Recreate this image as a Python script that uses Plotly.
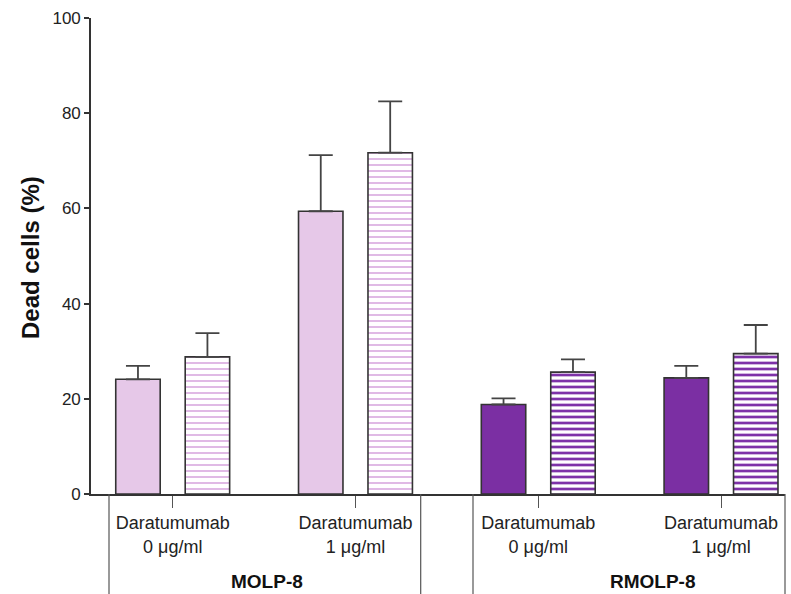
import plotly.graph_objects as go

# Dead-cell percentages (mean and upper SD) for each cell line / dose
dose_labels = ["Daratumumab<br>0 \u03bcg/ml", "Daratumumab<br>1 \u03bcg/ml",
               "Daratumumab<br>0 \u03bcg/ml", "Daratumumab<br>1 \u03bcg/ml"]
positions = [0, 1, 2, 3]
group_names = ["MOLP-8", "RMOLP-8"]
group_positions = [[0, 1], [2, 3]]

solid_mean = {"MOLP-8": [24.1, 59.4], "RMOLP-8": [18.8, 24.4]}
solid_err = {"MOLP-8": [2.8, 11.8], "RMOLP-8": [1.3, 2.5]}
hatched_mean = {"MOLP-8": [28.8, 71.7], "RMOLP-8": [25.6, 29.5]}
hatched_err = {"MOLP-8": [5.0, 10.8], "RMOLP-8": [2.7, 6.0]}

fill_color = {"MOLP-8": "#E6C8E8", "RMOLP-8": "#7B2FA3"}
hatch_color = {"MOLP-8": "#DDB2E2", "RMOLP-8": "#7E32A8"}
hatch_solidity = {"MOLP-8": 0.3, "RMOLP-8": 0.45}
EDGE = "#333333"

font_family = "Liberation Sans, Arial, sans-serif"


def err(values):
    return dict(type="data", array=values, arrayminus=[0] * len(values), symmetric=False,
                color="#444444", thickness=1.8, width=12)


fig = go.Figure()
for g, xs in zip(group_names, group_positions):
    fig.add_trace(go.Bar(
        x=xs, y=solid_mean[g], offsetgroup="solid",
        marker=dict(color=fill_color[g], line=dict(color=EDGE, width=1.6)),
        error_y=err(solid_err[g]), showlegend=False,
    ))
    fig.add_trace(go.Bar(
        x=xs, y=hatched_mean[g], offsetgroup="hatched",
        marker=dict(color="white", line=dict(color=EDGE, width=1.6),
                    pattern=dict(shape="-", fgcolor=hatch_color[g], bgcolor="white",
                                 fgopacity=1, size=6, solidity=hatch_solidity[g])),
        error_y=err(hatched_err[g]), showlegend=False,
    ))

W, H = 791, 594
L, R, T, B = 91, 6, 18, 100
plot_w = W - L - R
plot_h = H - T - B


def px_x(p):
    return (p - L) / plot_w


def px_y(p):
    return (H - B - p) / plot_h


fig.update_layout(
    width=W, height=H,
    margin=dict(l=L, r=R, t=T, b=B),
    paper_bgcolor="white", plot_bgcolor="white",
    barmode="group", bargap=0.24, bargroupgap=0.36,
    font=dict(family=font_family, color="#222222", size=17),
    xaxis=dict(range=[-0.447, 3.35], tickmode="array", tickvals=positions,
               ticktext=dose_labels, ticks="outside", ticklen=12, tickwidth=1.2,
               tickcolor="#555555", showline=True, linecolor=EDGE, linewidth=1.6,
               showgrid=False, zeroline=False, tickfont=dict(size=18)),
    yaxis=dict(range=[0, 100], dtick=20, ticks="outside", ticklen=5, tickwidth=1.6,
               tickcolor=EDGE, showline=True, linecolor=EDGE, linewidth=1.6,
               showgrid=False, zeroline=False, tickfont=dict(size=17)),
)

# Y-axis title
fig.add_annotation(text="<b>Dead cells (%)</b>", textangle=-90, xref="paper", yref="paper",
                   x=px_x(30), y=px_y(258), xanchor="center", yanchor="middle",
                   showarrow=False,
                   font=dict(size=24, family=font_family, color="#111111"))

# Group separators below the axis
for xp in [109, 420.7, 473, 785]:
    fig.add_shape(type="line", xref="paper", yref="paper", x0=px_x(xp), x1=px_x(xp),
                  y0=0, y1=px_y(H), line=dict(color="#555555", width=1.2))

# Cell-line labels
for name, xp in zip(group_names, [267, 653]):
    fig.add_annotation(text=f"<b>{name}</b>", xref="paper", yref="paper",
                       x=px_x(xp), y=px_y(581), xanchor="center", yanchor="middle",
                       showarrow=False, font=dict(size=19, family=font_family, color="#111111"))

fig.write_html("out.html")
